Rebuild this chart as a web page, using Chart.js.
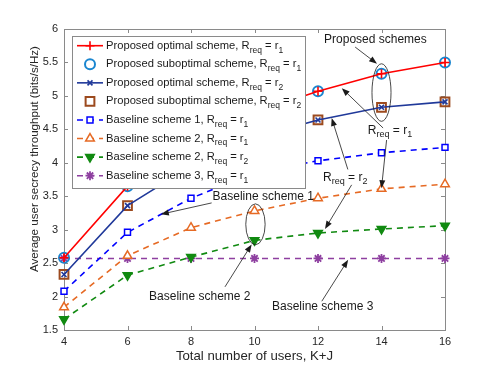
<!DOCTYPE html>
<html>
<head>
<meta charset="utf-8">
<script src="https://cdn.jsdelivr.net/npm/chart.js@4.4.0/dist/chart.umd.min.js"></script>
<style>
  html, body { margin: 0; padding: 0; background: #fff; }
</style>
</head>
<body>
<canvas id="chartSecrecy" width="491" height="369"></canvas>
<script>
"use strict";

// total number of users K+J
var users = [4, 6, 8, 10, 12, 14, 16];

// average user secrecy throughput (bits/s/Hz)
var optimalR1    = [2.58, 3.65, 4.30, 4.75, 5.07, 5.33, 5.50];
var suboptimalR1 = [2.58, 3.65, 4.30, 4.75, 5.07, 5.33, 5.50];
var optimalR2    = [2.33, 3.36, 3.95, 4.38, 4.64, 4.83, 4.91];
var suboptimalR2 = [2.33, 3.36, 3.95, 4.38, 4.64, 4.83, 4.91];
var baseline1R1  = [2.08, 2.96, 3.47, 3.85, 4.03, 4.15, 4.23];
var baseline2R1  = [1.84, 2.61, 3.03, 3.28, 3.47, 3.61, 3.68];
var baseline2R2  = [1.66, 2.32, 2.59, 2.84, 2.95, 3.01, 3.06];
var baseline3R1  = [2.57, 2.57, 2.57, 2.57, 2.57, 2.57, 2.57];

var xTicks = [4, 6, 8, 10, 12, 14, 16];
var yTicks = [1.5, 2, 2.5, 3, 3.5, 4, 4.5, 5, 5.5, 6];

var xTitle = "Total number of users, K+J";
var yTitle = "Average user secrecy throughput (bits/s/Hz)";

// legend text: [main, subscript, main, subscript]
var legendTexts = [
  ["Proposed optimal scheme, R", "req", " = r", "1"],
  ["Proposed suboptimal scheme, R", "req", " = r", "1"],
  ["Proposed optimal scheme, R", "req", " = r", "2"],
  ["Proposed suboptimal scheme, R", "req", " = r", "2"],
  ["Baseline scheme 1, R", "req", " = r", "1"],
  ["Baseline scheme 2, R", "req", " = r", "1"],
  ["Baseline scheme 2, R", "req", " = r", "2"],
  ["Baseline scheme 3, R", "req", " = r", "1"]
];

// annotations, in axis units
var noteTexts = [
  { parts: ["Proposed schemes"], x: 12.19, y: 5.836 },
  { parts: ["R", "req", " = r", "1"], x: 13.57, y: 4.485 },
  { parts: ["R", "req", " = r", "2"], x: 12.16, y: 3.78 },
  { parts: ["Baseline scheme 1"], x: 8.68, y: 3.49 },
  { parts: ["Baseline scheme 2"], x: 6.68, y: 2.0 },
  { parts: ["Baseline scheme 3"], x: 10.55, y: 1.855 }
];
var noteArrows = [
  [13.17, 5.73, 13.86, 5.48],
  [14.05, 4.52, 12.75, 5.115],
  [14.16, 4.34, 14.0, 3.62],
  [12.94, 3.90, 12.43, 4.67],
  [13.06, 3.67, 12.22, 3.01],
  [8.65, 3.40, 7.05, 3.23],
  [9.07, 2.145, 9.91, 2.78],
  [12.12, 1.93, 12.95, 2.55]
];
var noteEllipses = [
  { x: 14.0, y: 5.05, rx: 0.30, ry: 0.43 },
  { x: 10.03, y: 3.08, rx: 0.305, ry: 0.306 }
];

var fontFamily = "'Liberation Sans', Arial, sans-serif";
var axisColor = "#8a8a8a";
var textColor = "#262626";

function toPoints(values) {
  return users.map(function(u, i) { return { x: u, y: values[i] }; });
}

var datasets = [
  { label: "optimal r1", data: toPoints(optimalR1), borderColor: "#ff0000", backgroundColor: "#ff0000",
    borderWidth: 1.6, pointStyle: "cross", pointRadius: 4.5, pointBorderWidth: 1.6, showLine: true },
  { label: "suboptimal r1", data: toPoints(suboptimalR1), borderColor: "#1a86d0", backgroundColor: "rgba(0,0,0,0)",
    borderWidth: 0, pointStyle: "circle", pointRadius: 5, pointBorderWidth: 2, showLine: false },
  { label: "optimal r2", data: toPoints(optimalR2), borderColor: "#20399a", backgroundColor: "#20399a",
    borderWidth: 1.6, pointStyle: "crossRot", pointRadius: 3.5, pointBorderWidth: 1.6, showLine: true },
  { label: "suboptimal r2", data: toPoints(suboptimalR2), borderColor: "#9c4a1e", backgroundColor: "rgba(0,0,0,0)",
    borderWidth: 0, pointStyle: "rect", pointRadius: 6.2, pointBorderWidth: 2, showLine: false },
  { label: "baseline 1 r1", data: toPoints(baseline1R1), borderColor: "#0000ff", backgroundColor: "#ffffff",
    borderWidth: 1.6, borderDash: [6, 5], pointStyle: "rect", pointRadius: 4.2, pointBorderWidth: 1.5, showLine: true },
  { label: "baseline 2 r1", data: toPoints(baseline2R1), borderColor: "#e66a24", backgroundColor: "#ffffff",
    borderWidth: 1.6, borderDash: [6, 5], pointStyle: "triangle", pointRadius: 5, pointBorderWidth: 1.5, showLine: true },
  { label: "baseline 2 r2", data: toPoints(baseline2R2), borderColor: "#118a11", backgroundColor: "#118a11",
    borderWidth: 1.6, borderDash: [6, 5], pointStyle: "triangle", pointRotation: 180, pointRadius: 5, pointBorderWidth: 1.5, showLine: true },
  { label: "baseline 3 r1", data: toPoints(baseline3R1), borderColor: "#8e3fa0", backgroundColor: "#8e3fa0",
    borderWidth: 1.6, borderDash: [6, 5], pointStyle: "star", pointRadius: 4.5, pointBorderWidth: 1.8, showLine: true }
];
datasets.forEach(function(d) {
  d.fill = false;
  d.tension = 0;
  d.clip = false;
  d.pointBorderColor = d.borderColor;
  d.pointBackgroundColor = d.backgroundColor;
});

function drawParts(ctx, parts, x, y, size, subSize) {
  ctx.textAlign = "left";
  ctx.textBaseline = "middle";
  parts.forEach(function(p, i) {
    var isSub = i % 2 === 1;
    ctx.font = (isSub ? subSize : size) + "px " + fontFamily;
    ctx.fillText(p, x, y + (isSub ? 4.5 : 0));
    x += ctx.measureText(p).width;
  });
}

function drawArrow(ctx, x1, y1, x2, y2) {
  var ang = Math.atan2(y2 - y1, x2 - x1);
  var len = 8, half = 3;
  ctx.beginPath();
  ctx.moveTo(x1, y1);
  ctx.lineTo(x2 - Math.cos(ang) * len * 0.8, y2 - Math.sin(ang) * len * 0.8);
  ctx.stroke();
  ctx.beginPath();
  ctx.moveTo(x2, y2);
  ctx.lineTo(x2 - Math.cos(ang) * len - Math.sin(ang) * half, y2 - Math.sin(ang) * len + Math.cos(ang) * half);
  ctx.lineTo(x2 - Math.cos(ang) * len + Math.sin(ang) * half, y2 - Math.sin(ang) * len - Math.cos(ang) * half);
  ctx.closePath();
  ctx.fill();
}

var framePlugin = {
  id: "frame",
  beforeDatasetsDraw: function(chart) {
    var ctx = chart.ctx, a = chart.chartArea;
    var sx = chart.scales.x, sy = chart.scales.y;
    ctx.save();
    ctx.strokeStyle = axisColor;
    ctx.lineWidth = 1;
    ctx.strokeRect(Math.round(a.left) + 0.5, Math.round(a.top) + 0.5,
                   Math.round(a.right - a.left), Math.round(a.bottom - a.top));
    ctx.beginPath();
    xTicks.forEach(function(t) {
      var px = Math.round(sx.getPixelForValue(t)) + 0.5;
      ctx.moveTo(px, a.bottom); ctx.lineTo(px, a.bottom - 4);
      ctx.moveTo(px, a.top); ctx.lineTo(px, a.top + 4);
    });
    yTicks.forEach(function(t) {
      var py = Math.round(sy.getPixelForValue(t)) + 0.5;
      ctx.moveTo(a.left, py); ctx.lineTo(a.left + 4, py);
      ctx.moveTo(a.right, py); ctx.lineTo(a.right - 4, py);
    });
    ctx.stroke();

    // y axis title (sits a little above the axis middle, as in the figure)
    ctx.fillStyle = textColor;
    ctx.font = "11.6px " + fontFamily;
    ctx.textAlign = "center";
    ctx.textBaseline = "middle";
    ctx.translate(35, 159);
    ctx.rotate(-Math.PI / 2);
    ctx.fillText(yTitle, 0, 0);
    ctx.restore();
  },
  afterDatasetsDraw: function(chart) {
    var ctx = chart.ctx, a = chart.chartArea;
    var sx = chart.scales.x, sy = chart.scales.y;
    ctx.save();

    // annotations
    ctx.strokeStyle = "#1a1a1a";
    ctx.fillStyle = "#1a1a1a";
    ctx.lineWidth = 0.8;
    noteEllipses.forEach(function(e) {
      var cx = sx.getPixelForValue(e.x), cy = sy.getPixelForValue(e.y);
      var rx = Math.abs(sx.getPixelForValue(e.x + e.rx) - cx);
      var ry = Math.abs(sy.getPixelForValue(e.y + e.ry) - cy);
      ctx.beginPath();
      ctx.ellipse(cx, cy, rx, ry, 0, 0, Math.PI * 2);
      ctx.stroke();
    });
    noteArrows.forEach(function(r) {
      drawArrow(ctx, sx.getPixelForValue(r[0]), sy.getPixelForValue(r[1]),
                sx.getPixelForValue(r[2]), sy.getPixelForValue(r[3]));
    });
    noteTexts.forEach(function(n) {
      drawParts(ctx, n.parts, sx.getPixelForValue(n.x), sy.getPixelForValue(n.y), 12, 9);
    });

    // legend box
    var lx = a.left + 8, ly = a.top + 7, lw = 233, lh = 152;
    ctx.fillStyle = "#ffffff";
    ctx.fillRect(lx, ly, lw, lh);
    ctx.strokeStyle = axisColor;
    ctx.lineWidth = 1;
    ctx.strokeRect(Math.round(lx) + 0.5, Math.round(ly) + 0.5, lw, lh);
    var step = 18.57;
    datasets.forEach(function(d, i) {
      var cy = ly + 9.7 + i * step;
      var x0 = lx + 5, x1 = lx + 31, cx = (x0 + x1) / 2;
      ctx.save();
      if (d.showLine) {
        ctx.strokeStyle = d.borderColor;
        ctx.lineWidth = d.borderWidth;
        ctx.setLineDash(d.borderDash || []);
        ctx.beginPath();
        ctx.moveTo(x0, cy); ctx.lineTo(x1, cy);
        ctx.stroke();
        ctx.setLineDash([]);
      }
      ctx.strokeStyle = d.borderColor;
      ctx.fillStyle = d.backgroundColor;
      ctx.lineWidth = d.pointBorderWidth;
      Chart.helpers.drawPoint(ctx, {
        pointStyle: d.pointStyle, rotation: d.pointRotation || 0,
        radius: d.pointRadius, borderWidth: d.pointBorderWidth
      }, cx, cy);
      ctx.restore();
      ctx.fillStyle = "#1a1a1a";
      drawParts(ctx, legendTexts[i], lx + 34, cy, 11.2, 8.5);
    });
    ctx.restore();
  }
};

var chartSecrecy = new Chart("chartSecrecy", {
  type: "line",
  data: { datasets: datasets },
  options: {
    responsive: false,
    animation: false,
    devicePixelRatio: 1,
    layout: { padding: { top: 29, right: 46, left: 0, bottom: 0 } },
    plugins: { legend: { display: false }, tooltip: { enabled: false } },
    scales: {
      x: {
        type: "linear", min: 4, max: 16,
        border: { display: false },
        grid: { display: false, drawTicks: false },
        ticks: { stepSize: 2, padding: 5, color: textColor, maxRotation: 0,
                 font: { family: fontFamily, size: 11 } },
        title: { display: true, text: xTitle, color: textColor,
                 font: { family: fontFamily, size: 13.2 }, padding: { top: 0, bottom: 5 } },
        afterFit: function(scale) { scale.height = 39; }
      },
      y: {
        type: "linear", min: 1.5, max: 6,
        border: { display: false },
        grid: { display: false, drawTicks: false },
        ticks: { stepSize: 0.5, padding: 6, color: textColor,
                 font: { family: fontFamily, size: 11 },
                 callback: function(v) { return String(v); } },
        afterFit: function(scale) { scale.width = 64; }
      }
    }
  },
  plugins: [framePlugin]
});
</script>
</body>
</html>
